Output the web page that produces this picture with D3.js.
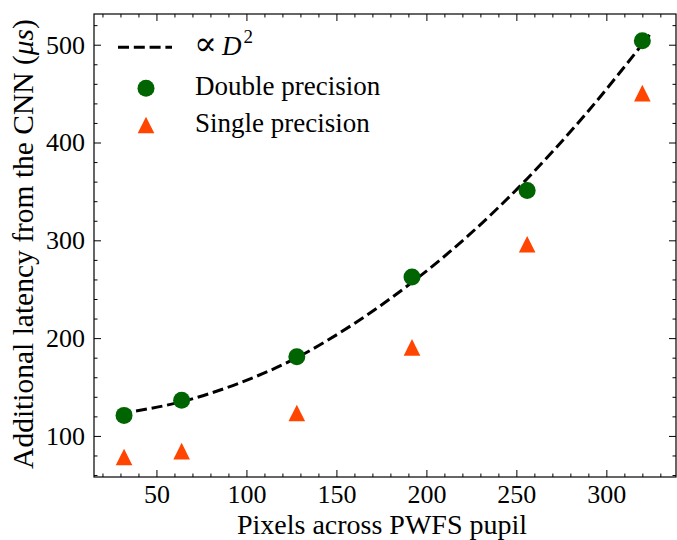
<!DOCTYPE html>
<html>
<head>
<meta charset="utf-8">
<script src="https://cdn.jsdelivr.net/npm/d3@7"></script>
<style>
  body { margin: 0; background: #fff; }
  svg text { font-family: "Liberation Serif", "DejaVu Serif", serif; fill: #000; }
</style>
</head>
<body>
<div id="chart"></div>
<script>
// pupil sizes (pixels across)
var pixels = [32, 64, 128, 192, 256, 320];
var doubleLatency = [121, 136.5, 181, 262.5, 351, 504];
var singleLatency = [78.5, 84.5, 123.5, 190.5, 296, 450.5];

// dashed fit curve
var fitX = [30, 64, 96, 128, 160, 192, 224, 256, 288, 324];
var fitY = [123, 135, 154, 180, 215, 257, 306, 363, 428, 510];

var xTicks = [50, 100, 150, 200, 250, 300];
var yTicks = [100, 200, 300, 400, 500];

var W = 677, H = 540;
var margin = {top: 14, right: 1, bottom: 63, left: 94};
var width = W - margin.left - margin.right,
    height = H - margin.top - margin.bottom;

var svg = d3.select("#chart").append("svg")
    .attr("width", W).attr("height", H);
var g = svg.append("g")
    .attr("transform", "translate(" + margin.left + "," + margin.top + ")");

var x = d3.scaleLinear().domain([15.3, 338.7]).range([0, width]);
var y = d3.scaleLinear().domain([58, 531.4]).range([height, 0]);

var xMinor = d3.range(20, 340, 10).filter(v => v % 50 !== 0);
var yMinor = d3.range(60, 531, 20).filter(v => v % 100 !== 0);

// ticks on all four sides, pointing in
function tickAxis(axisFn, scale, vals, size) {
  return axisFn(scale).tickValues(vals).tickSize(-size).tickFormat("");
}
var axB = g.append("g").attr("transform", "translate(0," + height + ")");
axB.call(d3.axisBottom(x).tickValues(xTicks).tickSize(-7).tickPadding(14));
axB.append("g").call(tickAxis(d3.axisBottom, x, xMinor, 3.5));
var axT = g.append("g");
axT.call(tickAxis(d3.axisTop, x, xTicks, 7));
axT.append("g").call(tickAxis(d3.axisTop, x, xMinor, 3.5));
var axL = g.append("g");
axL.call(d3.axisLeft(y).tickValues(yTicks).tickSize(-7).tickPadding(9));
axL.append("g").call(tickAxis(d3.axisLeft, y, yMinor, 3.5));
var axR = g.append("g").attr("transform", "translate(" + width + ",0)");
axR.call(tickAxis(d3.axisRight, y, yTicks, 7));
axR.append("g").call(tickAxis(d3.axisRight, y, yMinor, 3.5));

g.selectAll(".domain").remove();
g.selectAll(".tick line").attr("stroke", "#000").attr("stroke-width", 1);
g.selectAll(".tick text").style("font-size", "26px")
  .style("font-family", '"Liberation Serif", serif');
axB.selectAll(".tick text").attr("dy", "0.45em");

g.append("rect")
    .attr("width", width).attr("height", height)
    .attr("fill", "none").attr("stroke", "#000").attr("stroke-width", 1.2);

// fit line
var line = d3.line().x((d, i) => x(fitX[i])).y(d => y(d)).curve(d3.curveMonotoneX);
g.append("path")
    .datum(fitY)
    .attr("d", line)
    .attr("fill", "none").attr("stroke", "#000")
    .attr("stroke-width", 3).attr("stroke-dasharray", "11,4.8");

// markers
var tri = function(cx, cy, h) {
  return "M" + cx + "," + (cy - h) + "L" + (cx - h) + "," + (cy + h) + "L" + (cx + h) + "," + (cy + h) + "Z";
};
g.selectAll(".dbl").data(doubleLatency).enter().append("circle")
    .attr("cx", (d, i) => x(pixels[i])).attr("cy", d => y(d))
    .attr("r", 8.5).attr("fill", "#006400");
g.selectAll(".sgl").data(singleLatency).enter().append("path")
    .attr("d", (d, i) => tri(x(pixels[i]), y(d), 8.3))
    .attr("fill", "#ff4500");

// legend
var lg = svg.append("g");
lg.append("line").attr("x1", 118).attr("x2", 172).attr("y1", 47.3).attr("y2", 47.3)
    .attr("stroke", "#000").attr("stroke-width", 3).attr("stroke-dasharray", "11,4.8");
var t0 = lg.append("text").attr("x", 194).attr("y", 55).style("font-size", "27px");
t0.append("tspan").style("font-size", "34px").style("font-family", '"DejaVu Serif", serif').text("\u221D");
t0.append("tspan").attr("x", 222).style("font-style", "italic").text("D");
t0.append("tspan").attr("dy", -12).attr("dx", 2).style("font-size", "19px").text("2");
lg.append("circle").attr("cx", 146).attr("cy", 88.3).attr("r", 8.5).attr("fill", "#006400");
lg.append("text").attr("x", 195).attr("y", 95).style("font-size", "27px").text("Double precision");
lg.append("path").attr("d", tri(146, 125, 8.3)).attr("fill", "#ff4500");
lg.append("text").attr("x", 195).attr("y", 132).style("font-size", "27px").text("Single precision");

// axis labels
svg.append("text").attr("x", margin.left + width / 2 - 3).attr("y", 534)
    .attr("text-anchor", "middle").style("font-size", "28px")
    .text("Pixels across PWFS pupil");
var yl = svg.append("text")
    .attr("transform", "translate(33,244) rotate(-90)")
    .attr("text-anchor", "middle").style("font-size", "29.5px");
yl.append("tspan").text("Additional latency from the CNN (");
yl.append("tspan").style("font-style", "italic").text("\u03BCs");
yl.append("tspan").text(")");
</script>
</body>
</html>
